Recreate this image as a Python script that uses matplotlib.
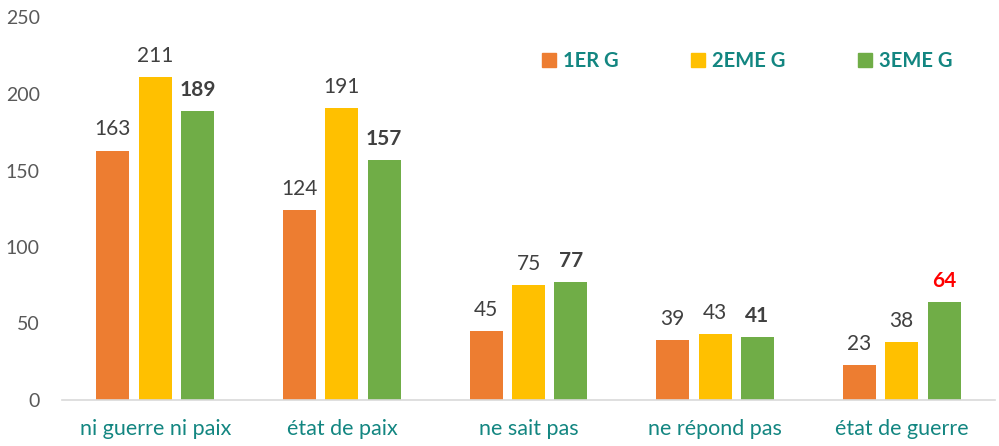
import matplotlib.pyplot as plt
from matplotlib.patches import Patch
import numpy as np

categories = ["ni guerre ni paix", "état de paix", "ne sait pas", "ne répond pas", "état de guerre"]
series_names = ["1ER G", "2EME G", "3EME G"]
g1 = [163, 124, 45, 39, 23]
g2 = [211, 191, 75, 43, 38]
g3 = [189, 157, 77, 41, 64]

colors = ["#ED7D31", "#FFC000", "#70AD47"]
teal = "#138681"
plt.rcParams['font.family'] = ['Lato', 'DejaVu Sans']

fig = plt.figure(figsize=(9.99, 4.46), dpi=100)
ax = fig.add_axes([62 / 999, 46 / 446, 933 / 999, (400 - 17.5) / 446])

x = np.arange(len(categories))
width = 0.177
step = 0.227
for i, (vals, col) in enumerate(zip([g1, g2, g3], colors)):
    pos = x + (i - 1) * step
    bars = ax.bar(pos, vals, width=width, color=col, zorder=2)
    for j, (b, v) in enumerate(zip(bars, vals)):
        weight = 'bold' if i == 2 else 'normal'
        c = '#404040'
        if i == 2 and j == len(vals) - 1:
            c = '#FF0000'
        ax.annotate(str(v), (b.get_x() + b.get_width() / 2, v), xytext=(0, 8),
                    textcoords='offset points', ha='center', va='bottom',
                    fontsize=15, color=c, fontweight=weight)

ax.set_xlim(-0.5, len(categories) - 0.5)
ax.set_ylim(0, 250)
ax.set_yticks(range(0, 251, 50))
ax.set_xticks(x)
ax.set_xticklabels(categories, fontsize=15.5, color=teal)
ax.tick_params(axis='y', labelsize=14, labelcolor='#595959', length=0, pad=16)
ax.tick_params(axis='x', length=0, pad=14)
for s in ['top', 'right', 'left']:
    ax.spines[s].set_visible(False)
ax.spines['bottom'].set_color('#D9D9D9')
ax.spines['bottom'].set_linewidth(1.2)

handles = [Patch(color=c) for c in colors]
leg = ax.legend(handles, series_names, ncol=3, loc='center left',
                bbox_to_anchor=(472 / 933, (400 - 61) / 382.5),
                frameon=False, handlelength=0.7, handleheight=0.7,
                handletextpad=0.35, columnspacing=3.6, borderaxespad=0,
                prop={'weight': 'bold', 'size': 14.5})
for t in leg.get_texts():
    t.set_color(teal)

fig.savefig("out.png", dpi=100)
